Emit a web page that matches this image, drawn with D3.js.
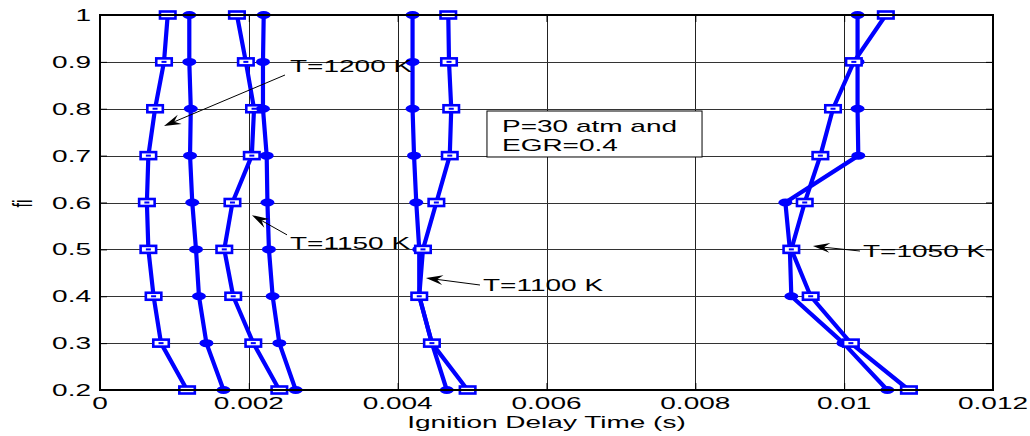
<!DOCTYPE html>
<html lang="en">
<head>
    <meta charset="UTF-8">
    <title>Ignition Delay Time vs fi</title>
    <script src="https://d3js.org/d3.v7.min.js"></script>
    <style>
        body { margin: 0; background: #fff; }
        text { font-family: "Liberation Sans", Arial, sans-serif; fill: #000; }
    </style>
</head>
<body>
    <svg id="chart" width="1030" height="436"></svg>

    <script>
        // fi values (y axis), same for every curve
        const fi = [1, 0.9, 0.8, 0.7, 0.6, 0.5, 0.4, 0.3, 0.2];

        // ignition delay times (s)
        const t1200Square = [0.00091, 0.00086, 0.00074, 0.00065, 0.00063, 0.00065, 0.00072, 0.00082, 0.00117];
        const t1200Circle = [0.00120, 0.00120, 0.00122, 0.00121, 0.00124, 0.00129, 0.00133, 0.00143, 0.00166];
        const t1150Square = [0.00184, 0.00196, 0.00207, 0.00204, 0.00178, 0.00167, 0.00179, 0.00206, 0.00241];
        const t1150Circle = [0.00220, 0.00219, 0.00219, 0.00224, 0.00225, 0.00227, 0.00232, 0.00241, 0.00263];
        const t1100Circle = [0.00420, 0.00420, 0.00420, 0.00422, 0.00425, 0.00429, 0.00429, 0.00446, 0.00466];
        const t1100Square = [0.00468, 0.00469, 0.00472, 0.00470, 0.00452, 0.00434, 0.00429, 0.00446, 0.00494];
        const t1050Circle = [0.01018, 0.01018, 0.01018, 0.01019, 0.00921, 0.00927, 0.00929, 0.00999, 0.01058];
        const t1050Square = [0.01056, 0.01013, 0.00985, 0.00968, 0.00947, 0.00929, 0.00955, 0.01009, 0.01087];

        const xTicks = [0, 0.002, 0.004, 0.006, 0.008, 0.01, 0.012];
        const yTicks = [0.2, 0.3, 0.4, 0.5, 0.6, 0.7, 0.8, 0.9, 1];

        // text labels with arrow tail / tip in data units
        const annotations = [
            { label: "T=1200 K", tx: 0.002553, ty: 0.878, from: [0.002486, 0.872], to: [0.00086, 0.763] },
            { label: "T=1150 K", tx: 0.002553, ty: 0.501, from: [0.002513, 0.531], to: [0.002042, 0.573] },
            { label: "T=1100 K", tx: 0.005147, ty: 0.411, from: [0.005106, 0.424], to: [0.00438, 0.439] },
            { label: "T=1050 K", tx: 0.010253, ty: 0.484, from: [0.010212, 0.4965], to: [0.00958, 0.507] }
        ];
        const boxLines = ["P=30 atm and", "EGR=0.4"];

        const series = [
            { values: t1200Square, marker: "square" },
            { values: t1200Circle, marker: "circle" },
            { values: t1150Square, marker: "square" },
            { values: t1150Circle, marker: "circle" },
            { values: t1100Circle, marker: "circle" },
            { values: t1100Square, marker: "square" },
            { values: t1050Circle, marker: "circle" },
            { values: t1050Square, marker: "square" }
        ];

        const plotL = 100, plotR = 993, plotT = 15, plotB = 390;
        const stretch = 1.75;   // the glyphs in the picture are wide
        const blue = "#0000ff";

        const svg = d3.select("#chart");

        const x = d3.scaleLinear().domain([0, 0.012]).range([plotL, plotR]);
        const y = d3.scaleLinear().domain([0.2, 1]).range([plotB, plotT]);

        function wideText(g, px, py, str, anchor) {
            return g.append("text")
                .attr("transform", `translate(${px},${py}) scale(${stretch},1)`)
                .attr("text-anchor", anchor || "start")
                .attr("font-size", 16)
                .text(str);
        }

        // grid
        const grid = svg.append("g");
        grid.selectAll(".gx")
            .data(xTicks.slice(1, -1))
            .enter().append("line")
            .attr("x1", d => Math.round(x(d)) + 0.5).attr("x2", d => Math.round(x(d)) + 0.5)
            .attr("y1", plotT).attr("y2", plotB)
            .attr("stroke", "#222").attr("stroke-width", 1);
        grid.selectAll(".gy")
            .data(yTicks.slice(1, -1))
            .enter().append("line")
            .attr("y1", d => Math.round(y(d)) + 0.5).attr("y2", d => Math.round(y(d)) + 0.5)
            .attr("x1", plotL).attr("x2", plotR)
            .attr("stroke", "#333").attr("stroke-width", 1);

        // inward ticks on all four sides
        const xAxisB = d3.axisBottom(x).tickValues(xTicks).tickSize(-7).tickFormat("");
        const xAxisT = d3.axisTop(x).tickValues(xTicks).tickSize(-7).tickFormat("");
        const yAxisL = d3.axisLeft(y).tickValues(yTicks).tickSize(-7).tickFormat("");
        const yAxisR = d3.axisRight(y).tickValues(yTicks).tickSize(-7).tickFormat("");
        [[xAxisB, `translate(0,${plotB})`], [xAxisT, `translate(0,${plotT})`],
         [yAxisL, `translate(${plotL},0)`], [yAxisR, `translate(${plotR},0)`]].forEach(([ax, tr]) => {
            const g = svg.append("g").attr("transform", tr).call(ax);
            g.select(".domain").remove();
            g.selectAll("line").attr("stroke", "#000");
        });

        // tick labels
        xTicks.forEach(t => {
            wideText(svg, x(t), plotB + 19, t === 0 ? "0" : String(t), "middle");
        });
        yTicks.forEach(t => {
            wideText(svg, plotL - 9, y(t) + 6, String(t), "end");
        });

        // axis titles
        wideText(svg, (plotL + plotR) / 2, 428, "Ignition Delay Time (s)", "middle");
        svg.append("text")
            .attr("transform", `translate(32,${(plotT + plotB) / 2 + 1}) rotate(-90) scale(1,${stretch})`)
            .attr("text-anchor", "middle")
            .attr("font-size", 16)
            .text("fi");

        // curves
        const line = d3.line()
            .x(d => x(d[0]))
            .y(d => y(d[1]));

        const curves = svg.append("g");
        series.forEach(s => {
            const pts = s.values.map((v, i) => [v, fi[i]]);
            curves.append("path")
                .datum(pts)
                .attr("d", line)
                .attr("fill", "none")
                .attr("stroke", blue)
                .attr("stroke-width", 4.2)
                .attr("stroke-linejoin", "round");
        });
        series.forEach(s => {
            const pts = s.values.map((v, i) => [v, fi[i]]);
            const mg = curves.append("g");
            if (s.marker === "square") {
                mg.selectAll("rect.m")
                    .data(pts)
                    .enter().append("rect")
                    .attr("x", d => x(d[0]) - 7.75)
                    .attr("y", d => y(d[1]) - 3.5)
                    .attr("width", 15.5)
                    .attr("height", 7)
                    .attr("fill", "#fff")
                    .attr("stroke", blue)
                    .attr("stroke-width", 2.6);
                mg.selectAll("rect.c")
                    .data(pts)
                    .enter().append("rect")
                    .attr("x", d => x(d[0]) - 2.5)
                    .attr("y", d => y(d[1]) - 1)
                    .attr("width", 5)
                    .attr("height", 2)
                    .attr("fill", blue);
            } else {
                mg.selectAll("ellipse")
                    .data(pts)
                    .enter().append("ellipse")
                    .attr("cx", d => x(d[0]))
                    .attr("cy", d => y(d[1]))
                    .attr("rx", 7)
                    .attr("ry", 4)
                    .attr("fill", blue);
            }
        });

        // frame
        svg.append("rect")
            .attr("x", plotL).attr("y", plotT)
            .attr("width", plotR - plotL).attr("height", plotB - plotT)
            .attr("fill", "none").attr("stroke", "#000").attr("stroke-width", 2);

        // annotations
        const ann = svg.append("g");
        annotations.forEach(a => {
            const x1 = x(a.from[0]), y1 = y(a.from[1]);
            const x2 = x(a.to[0]), y2 = y(a.to[1]);
            const ang = Math.atan2(y2 - y1, x2 - x1);
            const len = 17, half = 5, notch = 11;
            const hx = x2 - len * Math.cos(ang), hy = y2 - len * Math.sin(ang);
            const nx = x2 - notch * Math.cos(ang), ny = y2 - notch * Math.sin(ang);
            const px = -Math.sin(ang) * half, py = Math.cos(ang) * half;
            ann.append("line")
                .attr("x1", x1).attr("y1", y1)
                .attr("x2", nx).attr("y2", ny)
                .attr("stroke", "#000").attr("stroke-width", 1);
            ann.append("path")
                .attr("d", `M${x2},${y2}L${hx + px},${hy + py}L${nx},${ny}L${hx - px},${hy - py}Z`)
                .attr("fill", "#000");
            wideText(ann, x(a.tx), y(a.ty), a.label, "start");
        });

        // parameter box
        const bx0 = x(0.0052), bx1 = x(0.00809), by0 = y(0.7952), by1 = y(0.6971);
        ann.append("rect")
            .attr("x", bx0).attr("y", by0)
            .attr("width", bx1 - bx0).attr("height", by1 - by0)
            .attr("fill", "#fff").attr("stroke", "#000").attr("stroke-width", 1);
        boxLines.forEach((s, i) => {
            wideText(ann, bx0 + 15, by0 + 21 + i * 18.5, s, "start");
        });
    </script>
</body>
</html>
